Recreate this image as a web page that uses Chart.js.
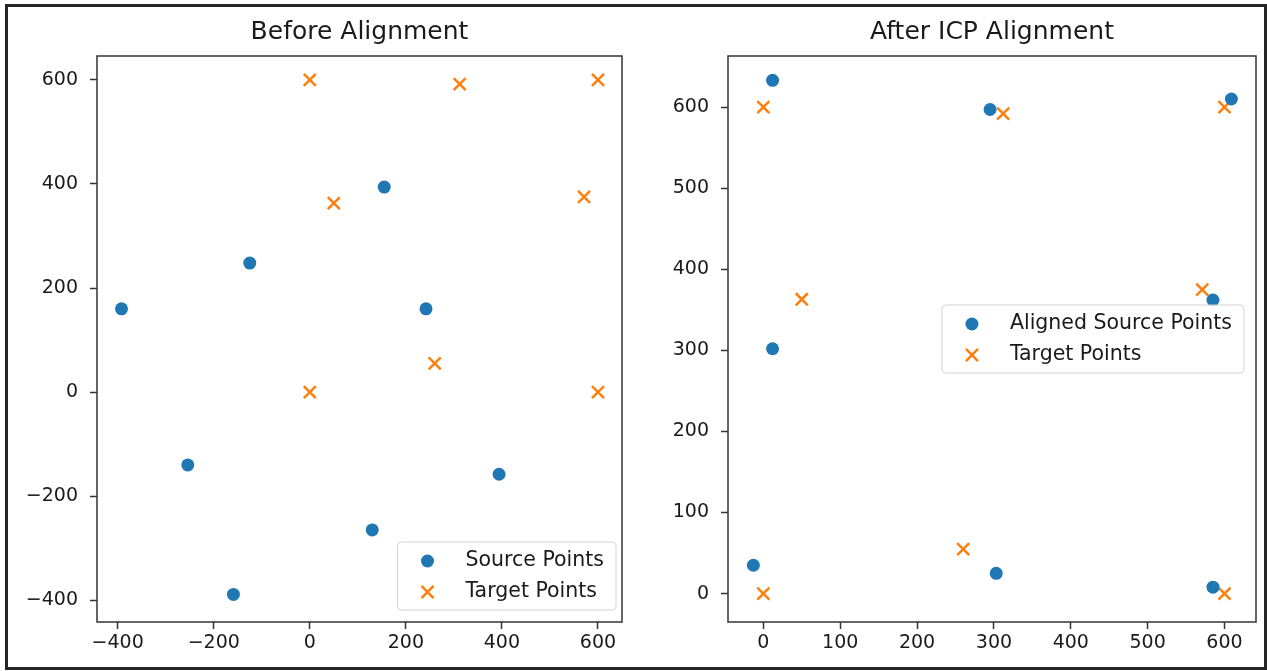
<!DOCTYPE html>
<html>
<head>
<meta charset="utf-8">
<title>ICP alignment</title>
<script src="https://cdn.jsdelivr.net/npm/chart.js@4.4.1/dist/chart.umd.min.js"></script>
<style>
  html, body { margin: 0; padding: 0; background: #fff; }
  #page { position: relative; width: 1267px; height: 671px; overflow: hidden; }
  #frame { position: absolute; left: 5px; top: 4px; width: 1256px; height: 660px; border: 3px solid #262626; }
  canvas { position: absolute; top: 0; }
</style>
</head>
<body>
<div id="page">
  <div id="frame"></div>
  <canvas id="before" width="633" height="671" style="left:0"></canvas>
  <canvas id="after" width="634" height="671" style="left:633px"></canvas>
</div>
<script>
// target points (same in both plots)
const targetX = [0, 312, 600, 50, 571, 0, 260, 600];
const targetY = [600, 592, 600, 363, 375, 0, 55, 0];
// source points before alignment
const sourceX = [-392, -125, 155, 242, -254, -159, 130, 394];
const sourceY = [160, 248, 394, 160, -140, -389, -265, -158];
// source points after ICP
const alignedX = [12, 295, 609, 585, 12, -13, 303, 585];
const alignedY = [633, 597, 610, 362, 302, 35, 25, 8];

const beforeTicks = [-400, -200, 0, 200, 400, 600];
const afterTicks = [0, 100, 200, 300, 400, 500, 600];

const BLUE = '#1f77b4', ORANGE = '#ff7f0e';
const FONT = '"DejaVu Sans", "Liberation Sans", sans-serif';

function pts(xs, ys){ return xs.map((x,i)=>({x:x, y:ys[i]})); }
function fmt(v){ return v < 0 ? '\u2212' + Math.abs(v) : String(v); }

// full box around the axes (matplotlib spines)
const frame = {
  id: 'frame',
  afterDatasetsDraw(chart){
    const a = chart.chartArea, ctx = chart.ctx;
    ctx.save();
    ctx.strokeStyle = '#333'; ctx.lineWidth = 1.5;
    ctx.strokeRect(a.left, a.top, a.right - a.left, a.bottom - a.top);
    ctx.restore();
  }
};

// legend drawn inside the plot, like plt.legend()
const boxLegend = {
  id: 'boxLegend',
  afterDraw(chart, args, opts){
    const ctx = chart.ctx, a = chart.chartArea;
    const sets = chart.data.datasets;
    ctx.save();
    ctx.font = '20.5px ' + FONT;
    const textW = Math.max(...sets.map(d => ctx.measureText(d.label).width));
    const w = 68 + textW + 12, h = 68;
    const x = a.right - opts.right - w;
    const y = opts.bottom != null ? a.bottom - opts.bottom - h : (a.top + a.bottom - h) / 2;
    ctx.beginPath();
    ctx.roundRect(x, y, w, h, 4);
    ctx.fillStyle = 'rgba(255,255,255,0.8)'; ctx.fill();
    ctx.strokeStyle = '#d4d4d4'; ctx.lineWidth = 1; ctx.stroke();
    sets.forEach((d, i) => {
      const cy = y + 19 + i * 31;
      ctx.fillStyle = d.backgroundColor; ctx.strokeStyle = d.borderColor; ctx.lineWidth = d.borderWidth;
      Chart.helpers.drawPoint(ctx, {pointStyle: d.pointStyle, radius: d.pointRadius, borderWidth: d.borderWidth, rotation: 0}, x + 30, cy);
      ctx.fillStyle = '#1a1a1a'; ctx.textBaseline = 'middle'; ctx.textAlign = 'left';
      ctx.fillText(d.label, x + 68, cy);
    });
    ctx.restore();
  }
};

function makeChart(id, title, srcLabel, srcPts, xMin, xMax, yMin, yMax, ticks, yWidth, legendOpts){
  return new Chart(document.getElementById(id), {
    type: 'scatter',
    data: {
      datasets: [
        {label: srcLabel, data: srcPts, pointStyle: 'circle', pointRadius: 6.5,
         backgroundColor: BLUE, borderColor: BLUE, borderWidth: 0},
        {label: 'Target Points', data: pts(targetX, targetY), pointStyle: 'crossRot', pointRadius: 8.5,
         backgroundColor: ORANGE, borderColor: ORANGE, borderWidth: 2.5}
      ]
    },
    options: {
      responsive: false, animation: false,
      layout: {padding: {left: 0, right: 10, top: 0, bottom: 0}},
      plugins: {
        legend: {display: false},
        tooltip: {enabled: false},
        title: {display: true, text: title, fullSize: false, color: '#1a1a1a',
                font: {family: FONT, size: 25, weight: 'normal'}, padding: {top: 17, bottom: 9}},
        boxLegend: legendOpts
      },
      scales: {
        x: {
          type: 'linear', min: xMin, max: xMax,
          afterBuildTicks: s => { s.ticks = ticks.map(v => ({value: v})); },
          afterFit: s => { s.height = 49; },
          border: {display: false},
          grid: {drawOnChartArea: false, drawTicks: true, tickLength: 7, tickWidth: 1.5, tickColor: '#333'},
          ticks: {color: '#1a1a1a', padding: 3, maxRotation: 0, autoSkip: false, callback: fmt,
                  font: {family: FONT, size: 19}}
        },
        y: {
          type: 'linear', min: yMin, max: yMax,
          afterBuildTicks: s => { s.ticks = ticks.map(v => ({value: v})); },
          afterFit: s => { s.width = yWidth; },
          border: {display: false},
          grid: {drawOnChartArea: false, drawTicks: true, tickLength: 7, tickWidth: 1.5, tickColor: '#333'},
          ticks: {color: '#1a1a1a', padding: 12, autoSkip: false, callback: fmt,
                  font: {family: FONT, size: 19}}
        }
      }
    },
    plugins: [frame, boxLegend]
  });
}

makeChart('before', 'Before Alignment', 'Source Points', pts(sourceX, sourceY),
  -443, 650, -442, 646, beforeTicks, 97, {right: 6, bottom: 12});
makeChart('after', 'After ICP Alignment', 'Aligned Source Points', pts(alignedX, alignedY),
  -46, 641, -35, 663, afterTicks, 95, {right: 12, bottom: null});
</script>
</body>
</html>
